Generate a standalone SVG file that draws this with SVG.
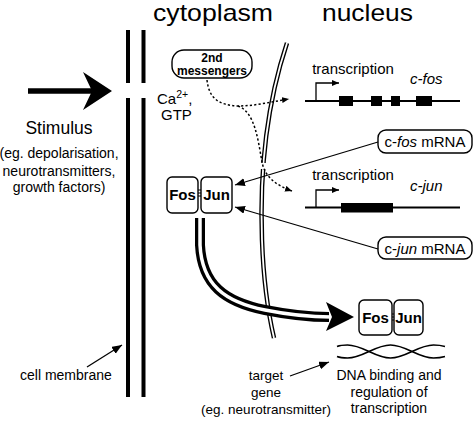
<svg xmlns="http://www.w3.org/2000/svg" width="474" height="422" viewBox="0 0 474 422">
<style>
text{font-family:"Liberation Sans",Arial,sans-serif;fill:#000}
.t{font-size:24px}
.m{font-size:14px}
.b{font-weight:bold}
.i{font-style:italic}
.box{fill:#fff;stroke:#000;stroke-width:1.4}
.thin{fill:none;stroke:#000;stroke-width:1.3}
.dot{fill:none;stroke:#000;stroke-width:1.5;stroke-dasharray:2.2 2.2}
.mem{fill:none;stroke:#000;stroke-width:4}
.gene{fill:none;stroke:#000;stroke-width:2}
</style>
<defs>
<marker id="ah" markerUnits="userSpaceOnUse" markerWidth="11" markerHeight="9" refX="10" refY="4" orient="auto">
<path d="M0,0 L10,4 L0,8 Z" fill="#000"/>
</marker>
<marker id="ahs" markerUnits="userSpaceOnUse" markerWidth="8" markerHeight="7" refX="7" refY="3" orient="auto">
<path d="M0,0 L7,3 L0,6 Z" fill="#000"/>
</marker>
</defs>

<g id="titles">
<text class="t" x="213" y="21" text-anchor="middle" textLength="120" lengthAdjust="spacingAndGlyphs">cytoplasm</text>
<text class="t" x="367.5" y="21" text-anchor="middle" textLength="91" lengthAdjust="spacingAndGlyphs">nucleus</text>
</g>

<g id="cell-membrane">
<line class="mem" x1="128" y1="30" x2="128" y2="83"/>
<line class="mem" x1="143.5" y1="30" x2="143.5" y2="83"/>
<line class="mem" x1="128" y1="98" x2="128" y2="397"/>
<line class="mem" x1="143.5" y1="98" x2="143.5" y2="397"/>
</g>

<g id="nuclear-membrane">
<path d="M287,43 Q258,130 262,240 Q264,295 274,338" fill="none" stroke="#000" stroke-width="4.5"/>
<path d="M287,43 Q258,130 262,240 Q264,295 274,338" fill="none" stroke="#fff" stroke-width="1.8"/>
<rect x="257" y="163" width="12" height="6" fill="#fff"/>
</g>

<g id="stimulus">
<line x1="28" y1="91" x2="92" y2="91" stroke="#000" stroke-width="5.5"/>
<polygon points="112,91 83,72 92,91 83,110" fill="#000"/>
<text x="59" y="134" text-anchor="middle" style="font-size:17.5px">Stimulus</text>
<text class="m" x="59" y="158" text-anchor="middle">(eg. depolarisation,</text>
<text class="m" x="59" y="176" text-anchor="middle">neurotransmitters,</text>
<text class="m" x="59" y="192" text-anchor="middle">growth factors)</text>
</g>

<g id="cell-membrane-label">
<text class="m" x="20" y="380">cell membrane</text>
</g>

<g id="second-messengers">
<rect class="box" x="172" y="50" width="80" height="28" rx="12"/>
<text class="b" x="212" y="62" text-anchor="middle" style="font-size:12px">2nd</text>
<text class="b" x="212" y="75" text-anchor="middle" style="font-size:12px">messengers</text>
</g>

<g id="ca-gtp">
<text x="157" y="103.5" style="font-size:15px">Ca<tspan dy="-6" style="font-size:10.5px">2+</tspan><tspan dy="6">,</tspan></text>
<text x="161" y="119.5" style="font-size:15px">GTP</text>
</g>

<g id="fosjun-cyto">
<rect class="box" x="167" y="177" width="31" height="36" rx="5"/>
<rect class="box" x="201" y="177" width="31" height="36" rx="5"/>
<line x1="198" y1="190" x2="201" y2="190" stroke="#000" stroke-width="1"/>
<line x1="198" y1="193" x2="201" y2="193" stroke="#000" stroke-width="1"/>
<line x1="198" y1="196" x2="201" y2="196" stroke="#000" stroke-width="1"/>
<text class="b" x="182.5" y="200" text-anchor="middle" style="font-size:15px">Fos</text>
<text class="b" x="216.5" y="200" text-anchor="middle" style="font-size:15px">Jun</text>
</g>

<g id="gene-cfos">
<line class="gene" x1="305" y1="101" x2="460" y2="101"/>
<rect x="339" y="96" width="14" height="10"/>
<rect x="371" y="96" width="11" height="10"/>
<rect x="391" y="96" width="9" height="10"/>
<rect x="416" y="96" width="16" height="10"/>
<path d="M316,101 V83 H339" class="thin" stroke-width="1.5" marker-end="url(#ahs)"/>
<text x="353" y="74" text-anchor="middle" style="font-size:15px">transcription</text>
<text class="i" x="410" y="84" style="font-size:15px">c-fos</text>
</g>

<g id="gene-cjun">
<line class="gene" x1="305" y1="207.5" x2="460" y2="207.5"/>
<rect x="341" y="203" width="52" height="9.5"/>
<path d="M316,207.5 V190 H339" class="thin" stroke-width="1.5" marker-end="url(#ahs)"/>
<text x="353" y="180" text-anchor="middle" style="font-size:15px">transcription</text>
<text class="i" x="410" y="191" style="font-size:15px">c-jun</text>
</g>

<g id="cfos-mrna">
<rect class="box" x="378" y="130" width="94" height="23" rx="8"/>
<text x="425" y="147" text-anchor="middle" style="font-size:15px">c-<tspan class="i">fos</tspan> mRNA</text>
</g>

<g id="cjun-mrna">
<rect class="box" x="378" y="237" width="94" height="22" rx="8"/>
<text x="425" y="254" text-anchor="middle" style="font-size:15px">c-<tspan class="i">jun</tspan> mRNA</text>
</g>

<g id="fosjun-nuc">
<rect class="box" x="359" y="300" width="33" height="35" rx="5"/>
<rect class="box" x="394" y="300" width="29" height="35" rx="5"/>
<line x1="392" y1="314" x2="394" y2="314" stroke="#000" stroke-width="1"/>
<line x1="392" y1="317" x2="394" y2="317" stroke="#000" stroke-width="1"/>
<line x1="392" y1="320" x2="394" y2="320" stroke="#000" stroke-width="1"/>
<text class="b" x="375.5" y="323" text-anchor="middle" style="font-size:15px">Fos</text>
<text class="b" x="408.5" y="323" text-anchor="middle" style="font-size:15px">Jun</text>
</g>

<g id="dna">
<path d="M337,356.5 C340,357.7 344,358 347.5,358 C363,358 375,345 390.5,345 C406,345 418,358 433.5,358 C437,358 441,357.7 445,356.5" fill="none" stroke="#000" stroke-width="1.5"/>
<path d="M337,346.5 C340,345.3 344,345 347.5,345 C363,345 375,358 390.5,358 C406,358 418,345 433.5,345 C437,345 441,345.3 445,346.5" fill="none" stroke="#000" stroke-width="1.5"/>
<text class="m" x="389" y="380" text-anchor="middle">DNA binding and</text>
<text class="m" x="389" y="397" text-anchor="middle">regulation of</text>
<text class="m" x="389" y="413" text-anchor="middle">transcription</text>
</g>

<g id="target-gene">
<text x="266" y="380" text-anchor="middle" style="font-size:13.5px">target</text>
<text x="266" y="397" text-anchor="middle" style="font-size:13.5px">gene</text>
<text x="266" y="414" text-anchor="middle" style="font-size:13.5px">(eg. neurotransmitter)</text>
</g>

<g id="connectors">
<path class="dot" d="M207,80 C209,98 218,105 238,106 C255,106 270,102 289,99" marker-end="url(#ahs)"/>
<path class="dot" d="M238,106 C255,112 258,140 262,162 C265,178 278,186 292,191" marker-end="url(#ahs)"/>
<line class="thin" x1="378" y1="142" x2="235" y2="185" marker-end="url(#ah)"/>
<line class="thin" x1="378" y1="249" x2="235" y2="207" marker-end="url(#ah)"/>
<path d="M200,218 L200,245 C202,285 225,302 265,310 C290,315 310,317 329,317" fill="none" stroke="#000" stroke-width="10"/>
<path d="M200,218 L200,245 C202,285 225,302 265,310 C290,315 310,317 331,317" fill="none" stroke="#fff" stroke-width="3.5"/>
<polygon points="326,302 354,317 326,331 332,317" fill="#000"/>
<line class="thin" x1="290" y1="376" x2="329" y2="362" marker-end="url(#ah)"/>
<line class="thin" x1="87" y1="367" x2="122" y2="345" marker-end="url(#ah)"/>
</g>
</svg>
